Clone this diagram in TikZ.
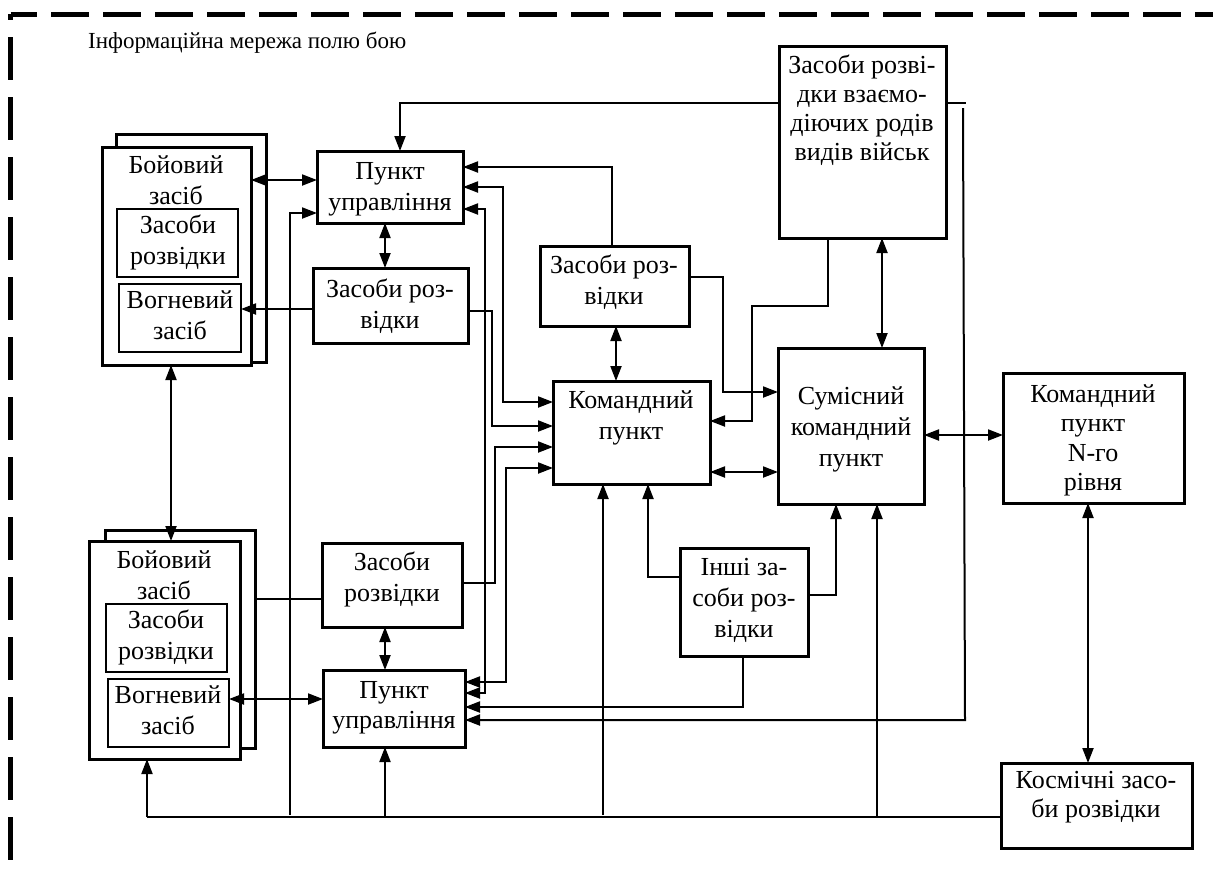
\documentclass[tikz,border=0pt]{standalone}
\usepackage{fontspec}
\setmainfont{Liberation Serif}
\usetikzlibrary{arrows.meta}
\newcommand\mkbox[6][box]{\node[#1, minimum width={(#5-#3)*1pt}, minimum height={(#6-#4)*1pt}] (#2) at ({(#3+#5)/2},{(#4+#6)/2}) {};}
\newcommand\tx[5][31]{\node[txt, font=\fontsize{26}{#1}\selectfont] (#2) at (#3,#4-22) {\rule{0pt}{22pt}#5};}
\begin{document}
\begin{tikzpicture}[x=1pt,y=-1pt,
  box/.style={draw, line width=3pt, fill=white, inner sep=0pt, outer sep=0pt},
  ibox/.style={draw, line width=2.5pt, fill=white, inner sep=0pt, outer sep=0pt},
  txt/.style={align=center, inner sep=0pt, anchor=north},
  wire/.style={line width=2pt},
  arr/.style={wire, -{Triangle[length=15pt,width=11pt]}},
  darr/.style={wire, {Triangle[length=15pt,width=11pt]}-{Triangle[length=15pt,width=11pt]}},
  border/.style={line width=5pt}]
\useasboundingbox (0,0) rectangle (1213,871);
% dashed frame
\coordinate (fc) at (10.5,14);
\draw[border, dash pattern=on 38pt off 14pt, dash phase=11.5pt] (fc) -- (1213,14);
\draw[border, dash pattern=on 43pt off 17pt, dash phase=37pt] (fc) -- (10.5,871);
\node[anchor=base west, font=\fontsize{23}{28}\selectfont, inner sep=0pt] (title) at (88,48) {Інформаційна мережа полю бою};
% boxes
\mkbox{b1b}{116}{134}{266}{362}
\mkbox{b1f}{102}{147}{251}{365}
\mkbox[ibox]{zi1}{117}{209}{238}{277}
\mkbox[ibox]{vg1}{119}{284}{241}{352}
\mkbox{b2b}{105}{530}{255}{748}
\mkbox{b2f}{89}{541}{240}{759}
\mkbox[ibox]{zi2}{106}{604}{227}{672}
\mkbox[ibox]{vg2}{108}{679}{229}{747}
\mkbox{pu1}{317}{151}{463}{223}
\mkbox{zr1}{313}{268}{468}{343}
\mkbox{zr3}{540}{246}{689}{326}
\mkbox{vz}{779}{46}{946}{238}
\mkbox{kp}{553}{381}{710}{484}
\mkbox{sk}{778}{348}{924}{504}
\mkbox{kpn}{1003}{373}{1184}{503}
\mkbox{kos}{1001}{763}{1192}{848}
\mkbox{ins}{680}{548}{808}{656}
\mkbox{zr2}{322}{543}{462}{627}
\mkbox{pu2}{323}{670}{465}{747}
% texts
\tx{t1}{176}{173}{Бойовий\\засіб}
\tx{t2}{178}{233}{Засоби\\розвідки}
\tx{t3}{180}{308}{Вогневий\\засіб}
\tx{t4}{390}{179}{Пункт\\управління}
\tx{t5}{390}{297}{Засоби роз-\\відки}
\tx{t6}{614}{273}{Засоби роз-\\відки}
\tx[29.2]{t7}{862}{73}{Засоби розві-\\дки взаємо-\\діючих родів\\видів військ}
\tx{t8}{631}{408}{Командний\\пункт}
\tx{t9}{851}{404}{Сумісний\\командний\\пункт}
\tx[29.5]{t10}{1093}{402}{Командний\\пункт\\N-го\\рівня}
\tx[29]{t11}{1096}{788}{Космічні засо-\\би розвідки}
\tx{t12}{744}{575}{Інші за-\\соби роз-\\відки}
\tx{t13}{392}{570}{Засоби\\розвідки}
\tx[30]{t14}{394}{698}{Пункт\\управління}
\tx{t15}{164}{568}{Бойовий\\засіб}
\tx{t16}{166}{628}{Засоби\\розвідки}
\tx{t17}{168}{703}{Вогневий\\засіб}
% bus coordinates
\coordinate (busL) at (147,817);
\coordinate (bus290) at (290,815);
\coordinate (bus385) at (385,817);
\coordinate (bus603) at (603,815);
\coordinate (bus877) at (877,817);
\coordinate (vzA) at (963,108);
\coordinate (vzB) at (966,103);
\coordinate (vzC) at (965,720);
% connectors
\draw[arr] (vz.west |- 0,103) -| (pu1.north -| 400,0);
\draw[wire] (vz.east |- 0,103) -- (vzB);
\draw[arr] (vzA) -- (vzC) -- (pu2.east |- vzC);
\draw[darr] (b1f.east |- 0,180) -- (pu1.west |- 0,180);
\draw[arr] (zr1.west |- 0,309) -- (vg1.east |- 0,309);
\draw[arr] (bus290) |- (pu1.west |- 0,213);
\draw[wire] (kos.west |- busL) -- (busL);
\draw[arr] (busL) -- (busL |- b2f.south);
\draw[arr] (bus385) -- (pu2.south -| bus385);
\draw[arr] (bus603) -- (kp.south -| bus603);
\draw[arr] (bus877) -- (sk.south -| bus877);
\draw[darr] (b1f.south -| 171,0) -- (b2f.north -| 171,0);
\draw[wire] (b2b.east |- 0,599) -- (zr2.west |- 0,599);
\draw[darr] (vg2.east |- 0,699) -- (pu2.west |- 0,699);
\draw[darr] (pu1.south -| 385,0) -- (zr1.north -| 385,0);
\draw[darr] (zr2.south -| 385,0) -- (pu2.north -| 385,0);
\draw[darr] (zr3.south -| 616,0) -- (kp.north -| 616,0);
\draw[arr] (zr3.east |- 0,277) -| (723,392) -- (sk.west |- 0,392);
\draw[arr] (vz.south -| 828,0) |- (752,306) |- (kp.east |- 0,421);
\draw[darr] (vz.south -| 882,0) -- (sk.north -| 882,0);
\draw[darr] (kp.east |- 0,472) -- (sk.west |- 0,472);
\draw[darr] (sk.east |- 0,435) -- (kpn.west |- 0,435);
\draw[darr] (kpn.south -| 1088,0) -- (kos.north -| 1088,0);
\draw[arr] (ins.west |- 0,577) -| (kp.south -| 648,0);
\draw[arr] (ins.east |- 0,595) -| (sk.south -| 836,0);
\draw[arr] (ins.south -| 743,0) |- (pu2.east |- 0,707);
\draw[arr] (zr3.north -| 612,0) |- (pu1.east |- 0,167);
\draw[darr] (kp.west |- 0,402) -| (503,187) -- (pu1.east |- 0,187);
\draw[darr] (pu1.east |- 0,209) -| (485,693) -- (pu2.east |- 0,693);
\draw[arr] (zr1.east |- 0,311) -| (492,426) -- (kp.west |- 0,426);
\draw[arr] (zr2.east |- 0,583) -| (495,447) -- (kp.west |- 0,447);
\draw[darr] (kp.west |- 0,468) -| (506,682) -- (pu2.east |- 0,682);
\end{tikzpicture}
\end{document}
